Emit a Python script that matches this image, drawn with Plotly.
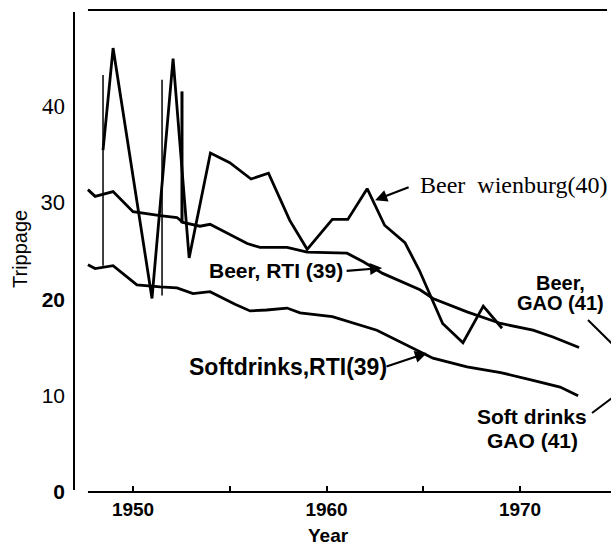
import plotly.graph_objects as go

# ---- data ----
wien_year = [1948.45, 1948.97, 1950.98, 1952.07, 1952.9, 1954.0, 1955.0, 1956.1, 1957.0,
             1958.1, 1959.0, 1960.3, 1961.1, 1962.1, 1963.0, 1964.05, 1964.8, 1966.0,
             1967.05, 1968.1, 1969.07]
wien_val = [35.5, 46.1, 20.1, 45.0, 24.3, 35.2, 34.2, 32.5, 33.1,
            28.2, 25.2, 28.3, 28.3, 31.5, 27.7, 25.9, 23.0, 17.5,
            15.5, 19.3, 17.0]

beer_rti_year = [1947.67, 1948.04, 1948.97, 1950.0, 1951.4, 1952.27, 1952.58, 1953.46, 1953.98,
                 1954.86, 1955.9, 1956.56, 1957.96, 1959.0, 1961.06, 1961.9, 1962.9, 1964.83,
                 1965.5, 1967.26, 1969.0, 1970.67, 1971.7, 1973.05]
beer_rti_val = [31.4, 30.7, 31.2, 29.1, 28.7, 28.5, 28.0, 27.6, 27.8,
                26.9, 25.8, 25.4, 25.4, 24.9, 24.8, 23.9, 22.7, 21.0,
                20.1, 18.7, 17.5, 16.8, 16.1, 15.0]

soft_rti_year = [1947.67, 1948.04, 1948.97, 1950.2, 1951.4, 1952.27, 1953.1, 1953.98, 1955.27,
                 1956.05, 1956.9, 1957.96, 1958.63, 1960.3, 1962.6, 1964.3, 1965.5, 1967.26,
                 1969.0, 1970.67, 1972.07, 1973.0]
soft_rti_val = [23.6, 23.2, 23.5, 21.5, 21.3, 21.2, 20.6, 20.8, 19.5,
                18.8, 18.9, 19.1, 18.6, 18.2, 16.8, 15.1, 13.9, 13.0,
                12.4, 11.6, 10.9, 10.0]

# thin vertical strokes in the plot (year, top value, bottom value)
vert_year = [1948.45, 1951.5]
vert_top = [43.3, 42.8]
vert_bot = [23.5, 20.4]
vert2_year = [1952.53]
vert2_top = [41.6]
vert2_bot = [27.9]

x_tickvals = [1950, 1955, 1960, 1965, 1970]
x_ticktext = ["1950", "", "1960", "", "1970"]
y_tickvals = [0, 10, 20, 30, 40]
y_ticktext = [
    "<b>0</b>",
    "<span style=\"font-family:'Liberation Sans Narrow','Arial Narrow',Arial;font-size:21px\">10</span>",
    "<b>20</b>",
    "<span style=\"font-family:'Liberation Sans Narrow','Arial Narrow',Arial;font-size:22px\">30</span>",
    "<span style=\"font-family:'Liberation Serif','Times New Roman',serif;font-size:23px\">40</span>",
]

X_RANGE = [1946.95, 1974.70]
Y_RANGE = [0, 50.05]

SANS = "Liberation Sans, Arial, sans-serif"
SERIF = "Liberation Serif, Times New Roman, serif"

fig = go.Figure()

line_style = dict(color="black", width=2.8)
for xs, ys in [(wien_year, wien_val), (beer_rti_year, beer_rti_val), (soft_rti_year, soft_rti_val)]:
    fig.add_trace(go.Scatter(x=xs, y=ys, mode="lines", line=line_style, hoverinfo="skip"))

vx, vy = [], []
for yr, t, b in zip(vert_year, vert_top, vert_bot):
    vx += [yr, yr, None]
    vy += [t, b, None]
fig.add_trace(go.Scatter(x=vx, y=vy, mode="lines", line=dict(color="black", width=1.5), hoverinfo="skip"))
vx, vy = [], []
for yr, t, b in zip(vert2_year, vert2_top, vert2_bot):
    vx += [yr, yr, None]
    vy += [t, b, None]
fig.add_trace(go.Scatter(x=vx, y=vy, mode="lines", line=dict(color="black", width=3), hoverinfo="skip"))


def f(size, family=SANS, weight="normal"):
    return dict(family=family, size=size, color="black", weight=weight)


annotations = [
    dict(x=1964.73, y=31.9, text="Beer  wienburg(40)", xanchor="left", yanchor="middle",
         showarrow=False, font=f(24, SERIF)),
    dict(x=1953.82, y=23.05, text="<b>Beer, RTI (39)</b>", xanchor="left", yanchor="middle",
         showarrow=False, font=f(21)),
    dict(x=1952.79, y=12.98, text="<b>Softdrinks,RTI(39)</b>", xanchor="left", yanchor="middle",
         showarrow=False, font=f(23)),
    dict(x=1972.07, y=21.7, text="<b>Beer,</b>", xanchor="center", yanchor="middle",
         showarrow=False, font=f(20)),
    dict(x=1972.07, y=19.6, text="<b>GAO (41)</b>", xanchor="center", yanchor="middle",
         showarrow=False, font=f(20)),
    dict(x=1970.62, y=7.8, text="<b>Soft drinks</b>", xanchor="center", yanchor="middle",
         showarrow=False, font=f(21)),
    dict(x=1970.62, y=5.4, text="<b>GAO (41)</b>", xanchor="center", yanchor="middle",
         showarrow=False, font=f(21)),
    # axis titles
    dict(xref="paper", yref="paper", x=(20 - 74) / 537, y=(492 - 249) / 482, text="Trippage",
         textangle=-90, xanchor="center", yanchor="middle", showarrow=False, font=f(20)),
    dict(xref="paper", yref="paper", x=(328 - 74) / 537, y=-(535 - 492) / 482, text="<b>Year</b>",
         xanchor="center", yanchor="middle", showarrow=False, font=f(19)),
]
# arrows (head <- tail in data coords)
arrows = [
    ((1962.51, 30.3), (1964.32, 31.7)),
    ((1962.87, 23.26), (1960.96, 22.95)),
    ((1965.19, 14.43), (1963.02, 12.98)),
]
for (hx, hy), (tx, ty) in arrows:
    annotations.append(dict(x=hx, y=hy, ax=tx, ay=ty, xref="x", yref="y", axref="x", ayref="y",
                            text="", showarrow=True, arrowhead=2, arrowsize=1.1, arrowwidth=2.2,
                            arrowcolor="black"))

shapes = [
    # left axis line (detached)
    dict(type="line", xref="paper", yref="paper", x0=0, x1=0, y0=0.004, y1=0.996,
         line=dict(color="black", width=2)),
    # bottom axis line
    dict(type="line", xref="paper", yref="paper", x0=0.026, x1=1, y0=0, y1=0,
         line=dict(color="black", width=2)),
    # top frame line
    dict(type="line", xref="paper", yref="paper", x0=0.026, x1=0.9926, y0=1, y1=1,
         line=dict(color="black", width=2)),
    # leader lines to GAO labels
    dict(type="line", xref="x", yref="y", x0=1973.51, y0=17.86, x1=1974.75, y1=15.4,
         line=dict(color="black", width=2)),
    dict(type="line", xref="x", yref="y", x0=1973.72, y0=8.2, x1=1974.75, y1=9.75,
         line=dict(color="black", width=2)),
]

fig.update_layout(
    width=611, height=546,
    margin=dict(l=74, r=0, t=10, b=54, autoexpand=False),
    paper_bgcolor="white", plot_bgcolor="white",
    showlegend=False,
    annotations=annotations,
    shapes=shapes,
    xaxis=dict(range=X_RANGE, showgrid=False, zeroline=False, showline=False, automargin=False,
               tickvals=x_tickvals, ticktext=x_ticktext, ticks="inside", ticklen=6,
               tickwidth=1.5, tickcolor="black", ticklabelstandoff=4,
               tickfont=f(19, weight="bold")),
    yaxis=dict(range=Y_RANGE, showgrid=False, zeroline=False, showline=False, automargin=False,
               tickvals=y_tickvals, ticktext=y_ticktext, ticks="",
               ticklabelstandoff=8, tickfont=f(21)),
)

fig.write_html(
    "out.html",
    config={"displayModeBar": False},
    post_script="document.body.style.margin='0';document.body.style.overflow='hidden';",
)
